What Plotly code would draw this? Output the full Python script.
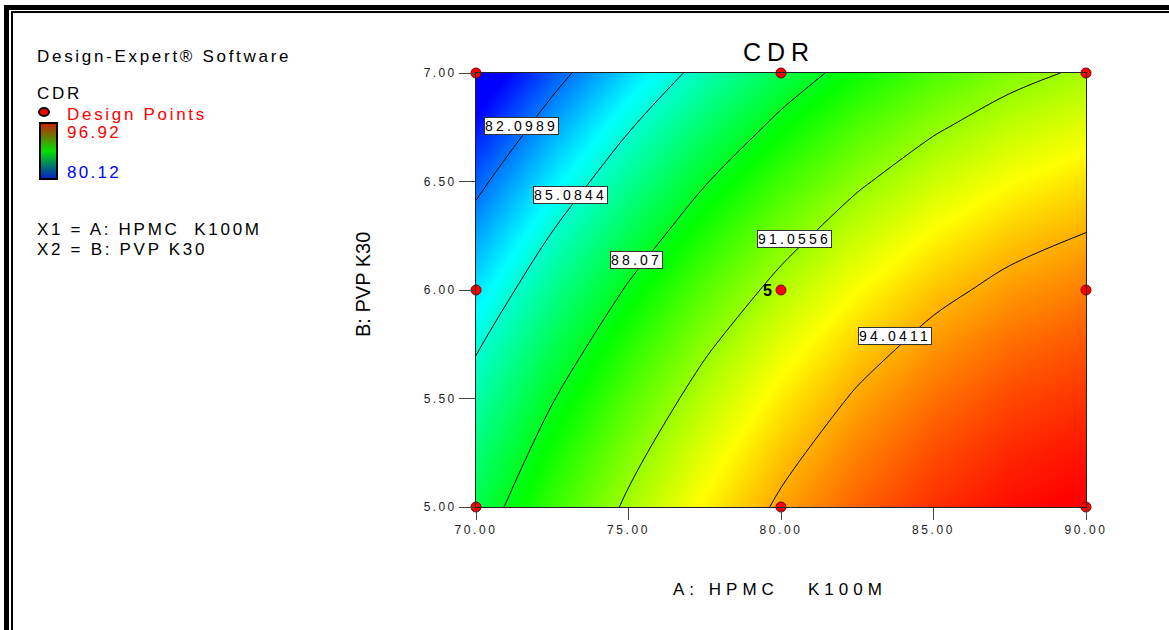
import plotly.graph_objects as go

# ---------------- data ----------------
hpmc_A = [70.0, 72.5, 75.0, 77.5, 80.0, 82.5, 85.0, 87.5, 90.0]   # A: HPMC K100M
pvp_B = [5.0, 5.25, 5.5, 5.75, 6.0, 6.25, 6.5, 6.75, 7.0]        # B: PVP K30

# predicted CDR, one row per PVP level
cdr_B500 = [87.29, 89.41, 91.28, 92.89, 94.24, 95.32, 96.15, 96.72, 97.03]
cdr_B525 = [86.58, 88.74, 90.65, 92.29, 93.68, 94.80, 95.67, 96.27, 96.62]
cdr_B550 = [85.78, 87.99, 89.93, 91.61, 93.03, 94.20, 95.10, 95.74, 96.12]
cdr_B575 = [84.90, 87.14, 89.12, 90.84, 92.30, 93.50, 94.44, 95.12, 95.54]
cdr_B600 = [83.92, 86.20, 88.22, 89.97, 91.47, 92.71, 93.69, 94.40, 94.86]
cdr_B625 = [82.85, 85.17, 87.22, 89.02, 90.55, 91.83, 92.84, 93.60, 94.09]
cdr_B650 = [81.70, 84.05, 86.14, 87.98, 89.55, 90.86, 91.91, 92.71, 93.24]
cdr_B675 = [80.45, 82.84, 84.97, 86.84, 88.45, 89.80, 90.89, 91.72, 92.29]
cdr_B700 = [79.12, 81.54, 83.71, 85.62, 87.27, 88.65, 89.78, 90.65, 91.26]

contour_levels = [82.0989, 85.0844, 88.07, 91.0556, 94.0411]
cdr_min, cdr_max = 80.12, 96.92

design_A = [70, 70, 70, 80, 80, 80, 90, 90, 90]
design_B = [5, 6, 7, 5, 6, 7, 5, 6, 7]
center_reps = 5

x_ticks = [70, 75, 80, 85, 90]
y_ticks = [5.0, 5.5, 6.0, 6.5, 7.0]

# label placement (positions, not data)
label_A = [71.48, 73.10, 75.25, 80.43, 83.74]
label_B = [6.755, 6.437, 6.137, 6.236, 5.79]

# ---------------- layout helpers ----------------
PL, PR, PT, PB = 476, 1086, 73, 507
PW, PH = PR - PL, PB - PT
FONT = "Liberation Sans, Arial, sans-serif"


def px(xp):
    return (xp - PL) / PW


def py(yp):
    return (PB - yp) / PH


def ls(text, sp):
    return f'<span style="letter-spacing:{sp}px">{text}</span>'


z = [cdr_B500, cdr_B525, cdr_B550, cdr_B575, cdr_B600,
     cdr_B625, cdr_B650, cdr_B675, cdr_B700]

main_scale = [[0.0, "rgb(0,0,255)"], [0.25, "rgb(0,255,255)"],
              [0.5, "rgb(0,255,0)"], [0.75, "rgb(255,255,0)"],
              [1.0, "rgb(255,0,0)"]]
legend_scale = [[0.0, "rgb(0,30,200)"], [0.5, "rgb(0,225,0)"],
                [1.0, "rgb(205,30,0)"]]

fig = go.Figure()

fig.add_trace(go.Heatmap(
    x=hpmc_A, y=pvp_B, z=z, zmin=cdr_min, zmax=cdr_max,
    colorscale=main_scale, zsmooth="best", showscale=False,
    hoverinfo="skip"))

step = (contour_levels[-1] - contour_levels[0]) / (len(contour_levels) - 1)
fig.add_trace(go.Contour(
    x=hpmc_A, y=pvp_B, z=z, autocontour=False,
    contours=dict(start=contour_levels[0], end=contour_levels[-1] + 1e-6,
                  size=step, coloring="none", showlabels=False),
    line=dict(color="black", width=1, smoothing=1),
    showscale=False, hoverinfo="skip"))

fig.add_trace(go.Scatter(
    x=design_A, y=design_B, mode="markers", cliponaxis=False,
    marker=dict(size=10, color="rgb(255,0,0)",
                line=dict(color="rgb(120,0,0)", width=1)),
    hoverinfo="skip", showlegend=False))

# invisible trace carrying the small legend colour bar
fig.add_trace(go.Scatter(
    x=[hpmc_A[0]], y=[pvp_B[-1]], mode="markers", showlegend=False,
    hoverinfo="skip",
    marker=dict(opacity=0, color=[cdr_min], cmin=cdr_min, cmax=cdr_max,
                colorscale=legend_scale, showscale=True,
                colorbar=dict(x=px(40), xanchor="left", y=py(123),
                              yanchor="top", lenmode="pixels", len=56,
                              thicknessmode="pixels", thickness=17,
                              outlinecolor="black", outlinewidth=2,
                              showticklabels=False, ticks="",
                              xpad=0, ypad=0))))

ann = []
# contour labels
for a, b, lev in zip(label_A, label_B, contour_levels):
    ann.append(dict(x=a, y=b, xref="x", yref="y", text=ls(str(lev), 3.2),
                    showarrow=False, bgcolor="white", bordercolor="#333",
                    borderwidth=1, borderpad=0,
                    font=dict(family=FONT, size=14, color="black")))
# replicate count at centre point
ann.append(dict(x=design_A[4], y=design_B[4], xref="x", yref="y",
                text=f"<b>{center_reps}</b>", showarrow=False, xshift=-14,
                font=dict(family=FONT, size=16, color="black")))
# title
ann.append(dict(x=px(779), y=py(52), xref="paper", yref="paper",
                xanchor="center", yanchor="middle",
                text=ls("CDR", 6), showarrow=False,
                font=dict(family=FONT, size=25, color="black")))
# axis titles
ann.append(dict(x=px(780), y=py(589), xref="paper", yref="paper",
                xanchor="center", yanchor="middle",
                text=ls("A:\u00a0HPMC\u00a0\u00a0\u00a0K100M", 5),
                showarrow=False,
                font=dict(family=FONT, size=17, color="black")))
ann.append(dict(x=px(363), y=py(285), xref="paper", yref="paper",
                xanchor="center", yanchor="middle",
                text="B: PVP K30", textangle=-90, showarrow=False,
                font=dict(family=FONT, size=20, color="black")))
# left info panel
left_items = [
    ("Design-Expert® Software", 56, "black"),
    ("CDR", 94, "black"),
    ("X1 = A: HPMC\u00a0\u00a0K100M", 229, "black"),
    ("X2 = B: PVP K30", 249, "black"),
]
for txt, yy, col in left_items:
    ann.append(dict(x=px(35), y=py(yy), xref="paper", yref="paper",
                    xanchor="left", yanchor="middle", text=ls(txt, 2.7),
                    showarrow=False,
                    font=dict(family=FONT, size=17, color=col)))
ann.append(dict(x=px(65), y=py(114), xref="paper", yref="paper",
                xanchor="left", yanchor="middle",
                text=ls("Design Points", 2.7), showarrow=False,
                font=dict(family=FONT, size=17, color="rgb(255,0,0)")))
ann.append(dict(x=px(65), y=py(133), xref="paper", yref="paper",
                xanchor="left", yanchor="middle",
                text=ls(f"{cdr_max:.2f}", 2.3), showarrow=False,
                font=dict(family=FONT, size=17, color="rgb(255,0,0)")))
ann.append(dict(x=px(65), y=py(172), xref="paper", yref="paper",
                xanchor="left", yanchor="middle",
                text=ls(f"{cdr_min:.2f}", 2.3), showarrow=False,
                font=dict(family=FONT, size=17, color="rgb(0,0,255)")))

shapes = [
    # design point legend symbol
    dict(type="circle", xref="paper", yref="paper",
         x0=px(39), x1=px(49), y0=py(108), y1=py(116),
         fillcolor="rgb(255,0,0)", line=dict(color="black", width=2)),
    # double frame (top and left)
    dict(type="line", xref="paper", yref="paper", x0=px(4), x1=px(1169),
         y0=py(7.5), y1=py(7.5), line=dict(color="black", width=5)),
    dict(type="line", xref="paper", yref="paper", x0=px(6.5), x1=px(6.5),
         y0=py(5), y1=py(630), line=dict(color="black", width=5)),
    dict(type="line", xref="paper", yref="paper", x0=px(11), x1=px(1169),
         y0=py(12), y1=py(12), line=dict(color="black", width=2)),
    dict(type="line", xref="paper", yref="paper", x0=px(12), x1=px(12),
         y0=py(11), y1=py(630), line=dict(color="black", width=2)),
]

fig.update_layout(
    width=1169, height=630,
    margin=dict(l=PL, r=1169 - PR, t=PT, b=630 - PB),
    paper_bgcolor="white", plot_bgcolor="white",
    showlegend=False, annotations=ann, shapes=shapes,
    font=dict(family=FONT, color="black"),
    xaxis=dict(range=[x_ticks[0], x_ticks[-1]], tickvals=x_ticks,
               ticktext=[ls(f"{v:.2f}", 2.6) for v in x_ticks],
               ticks="outside", ticklen=12, tickcolor="#444",
               showline=True, linecolor="#222", linewidth=1, mirror=True,
               showgrid=False, zeroline=False,
               tickfont=dict(family=FONT, size=12, color="#222")),
    yaxis=dict(range=[y_ticks[0], y_ticks[-1]], tickvals=y_ticks,
               ticktext=[ls(f"{v:.2f}", 2.4) for v in y_ticks],
               ticks="outside", ticklen=16, tickcolor="#444",
               showline=True, linecolor="#222", linewidth=1, mirror=True,
               showgrid=False, zeroline=False,
               tickfont=dict(family=FONT, size=12, color="#222")),
)

fig.write_html("out.html", config={"displayModeBar": False},
               post_script="document.body.style.margin='0';")
